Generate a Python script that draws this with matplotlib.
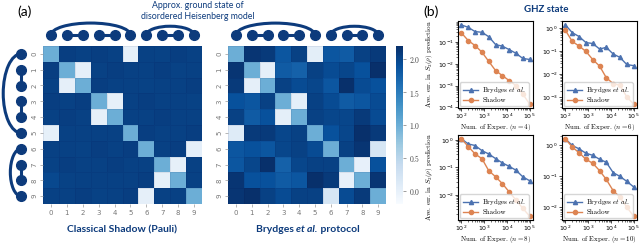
import matplotlib.pyplot as plt
import numpy as np
from matplotlib.patches import Arc
from matplotlib.ticker import LogLocator

plt.rcParams['mathtext.fontset'] = 'cm'
plt.rcParams['axes.formatter.use_mathtext'] = True

NAVY = '#0d3b7c'
BLUE = '#4C72B0'
ORANGE = '#DD8452'

# ---- data ----
sites = [str(i) for i in range(10)]
pairs = [(0, 5), (1, 2), (3, 4), (6, 9), (7, 8)]

shadow_S2 = [
    [1.00, 2.06, 2.05, 2.06, 2.05, 0.01, 2.05, 2.04, 2.06, 2.05],
    [2.06, 1.00, 0.02, 2.05, 2.06, 2.05, 2.05, 2.06, 2.04, 2.05],
    [2.05, 0.02, 1.00, 2.06, 2.05, 2.05, 2.04, 2.05, 2.05, 2.06],
    [2.06, 2.05, 2.06, 1.00, 0.01, 2.05, 2.06, 2.05, 2.05, 2.04],
    [2.05, 2.06, 2.05, 0.01, 1.00, 2.05, 2.05, 2.06, 2.05, 2.05],
    [0.01, 2.05, 2.05, 2.05, 2.05, 1.00, 2.06, 2.05, 2.05, 2.06],
    [2.05, 2.05, 2.04, 2.06, 2.05, 2.06, 1.00, 2.05, 2.06, 0.02],
    [2.04, 2.06, 2.05, 2.05, 2.06, 2.05, 2.05, 1.00, 0.01, 2.05],
    [1.98, 2.04, 2.05, 2.05, 2.05, 2.05, 2.06, 0.01, 1.00, 2.05],
    [2.05, 2.05, 2.06, 2.04, 2.05, 2.06, 0.02, 2.05, 2.05, 1.00],
]

brydges_S2 = [
    [1.00, 2.15, 2.10, 1.85, 2.05, 0.05, 1.85, 1.80, 2.05, 2.10],
    [2.15, 1.00, 0.02, 1.80, 1.75, 2.05, 1.95, 2.00, 1.90, 2.25],
    [2.10, 0.02, 1.00, 2.05, 1.95, 2.00, 1.85, 2.20, 1.95, 1.90],
    [1.90, 1.85, 2.05, 1.00, 0.03, 2.05, 1.95, 1.80, 1.85, 1.95],
    [2.05, 1.80, 1.90, 0.03, 1.00, 2.05, 2.00, 2.00, 2.10, 1.95],
    [0.10, 2.10, 2.10, 2.00, 2.05, 1.00, 1.90, 2.00, 2.25, 2.10],
    [1.85, 1.90, 1.85, 2.00, 2.05, 1.95, 1.00, 2.05, 2.15, 0.20],
    [1.85, 2.00, 2.20, 1.75, 2.00, 2.05, 2.05, 1.00, 0.00, 1.90],
    [2.15, 1.90, 1.90, 1.80, 1.85, 2.25, 2.10, 0.00, 1.00, 2.15],
    [2.15, 2.25, 2.05, 1.95, 2.05, 2.05, 0.20, 1.95, 2.10, 1.00],
]

n_exp = [100, 200, 400, 800, 1600, 3200, 6300, 12600, 25000, 50000, 100000]
system_sizes = [4, 6, 8, 10]
err_brydges = {
    4: [0.63, 0.49, 0.31, 0.29, 0.18, 0.078, 0.066, 0.046, 0.031, 0.018, 0.016],
    6: [1.4, 0.65, 0.44, 0.24, 0.22, 0.126, 0.15, 0.077, 0.055, 0.027, 0.024],
    8: [1.1, 0.72, 0.63, 0.41, 0.31, 0.21, 0.147, 0.11, 0.08, 0.046, 0.033],
    10: [1.6, 0.98, 0.76, 0.55, 0.47, 0.35, 0.28, 0.13, 0.098, 0.068, 0.045],
}
err_shadow = {
    4: [0.27, 0.12, 0.07, 0.035, 0.013, 0.0049, 0.0029, 0.0017, 0.001, 0.00041, 0.00014],
    6: [0.82, 0.27, 0.17, 0.10, 0.044, 0.023, 0.0072, 0.004, 0.0034, 0.00107, 0.00052],
    8: [1.1, 0.58, 0.31, 0.21, 0.076, 0.046, 0.026, 0.013, 0.0066, 0.0033, 0.0017],
    10: [1.6, 0.87, 0.57, 0.35, 0.26, 0.15, 0.078, 0.034, 0.021, 0.010, 0.0051],
}

W, H = 640, 246
fig = plt.figure(figsize=(W / 100, H / 100), dpi=100)


def px(x0, y0, x1, y1):
    # pixel box (from top-left) -> figure fraction rect
    return [x0 / W, 1 - y1 / H, (x1 - x0) / W, (y1 - y0) / H]


def heatmap(ax, mat):
    m = ax.pcolormesh(np.asarray(mat), cmap='Blues', vmin=-0.2, vmax=2.2,
                      edgecolors=(0, 0, 0.25, 0.07), linewidth=0.4)
    ax.set_xlim(0, 10)
    ax.set_ylim(10, 0)
    ax.set_xticks(np.arange(10) + 0.5, sites)
    ax.set_yticks(np.arange(10) + 0.5, sites, rotation=90, va='center')
    ax.tick_params(length=2, width=0.5, color='#999999', labelcolor='#777777',
                   labelsize=5, pad=2)
    for s in ax.spines.values():
        s.set_visible(False)
    return m


# ---- panel (a) ----
ax_l = fig.add_axes(px(43, 46, 202, 204))
ax_r = fig.add_axes(px(228, 46, 386, 204))
cax = fig.add_axes(px(396, 46, 403, 204))

mesh = heatmap(ax_l, shadow_S2)
heatmap(ax_r, brydges_S2)

cb = fig.colorbar(mesh, cax=cax)
cb.outline.set_visible(False)
cb.set_ticks([0, 0.5, 1.0, 1.5, 2.0])
cax.tick_params(length=2, width=0.5, color='#777777', labelcolor='#444444',
                labelsize=5.5, pad=2)
for t in cax.get_yticklabels():
    t.set_family('cmr10')

# overlay in pixel coordinates for the spin-chain sketches and labels
ov = fig.add_axes([0, 0, 1, 1])
ov.set_xlim(0, W)
ov.set_ylim(0, H)
ov.axis('off')


def draw_chain(centers, side):
    for a, b in pairs:
        (xa, ya), (xb, yb) = centers[a], centers[b]
        if b - a == 1:
            ov.plot([xa, xb], [ya, yb], color=NAVY, lw=2.2, solid_capstyle='round')
        else:
            d = np.hypot(xb - xa, yb - ya)
            if side == 'top':
                h = 4 + 0.1 * d
                ov.add_patch(Arc(((xa + xb) / 2, ya), d, 2 * h, theta1=0, theta2=180,
                                 color=NAVY, lw=2.2))
            else:
                h = 0.225 * d
                ov.add_patch(Arc((xa, (ya + yb) / 2), 2 * h, d, theta1=90, theta2=270,
                                 color=NAVY, lw=2.2))
    xs, ys = zip(*centers)
    ov.plot(xs, ys, 'o', ms=7, color=NAVY, ls='none')


for ax in (ax_l, ax_r):
    top = [ax.transData.transform((i + 0.5, 0)) for i in range(10)]
    draw_chain([(x, y + 11) for x, y in top], 'top')
left = [ax_l.transData.transform((0, i + 0.5)) for i in range(10)]
draw_chain([(x - 22, y) for x, y in left], 'left')

sans = ['Lato', 'DejaVu Sans']
fig.text(17 / W, 1 - 12 / H, '(a)', fontsize=10, family=sans, va='center')
fig.text(423 / W, 1 - 12 / H, '(b)', fontsize=10, family=sans, va='center')
fig.text(198 / W, 1 - 11 / H, 'Approx. ground state of\ndisordered Heisenberg model',
         fontsize=6.3, family=sans, color=NAVY, ha='center', va='center',
         linespacing=1.3)
fig.text(546 / W, 1 - 10 / H, 'GHZ state', fontsize=7, family=sans, weight='bold',
         color=NAVY, ha='center', va='center')
fig.text(122 / W, 1 - 230 / H, 'Classical Shadow (Pauli)', fontsize=7.5, family=sans,
         weight='bold', color=NAVY, ha='center', va='center')

t1 = ov.text(256, H - 230, 'Brydges ', fontsize=7.5, family=sans, weight='bold',
             color=NAVY, va='center')
t2 = ov.annotate('et al.', xy=(1, 0), xycoords=t1, va='bottom', fontsize=7.5,
                 family=sans, weight='bold', style='italic', color=NAVY)
ov.annotate(' protocol', xy=(1, 0), xycoords=t2, va='bottom', fontsize=7.5,
            family=sans, weight='bold', color=NAVY)

# ---- panel (b) ----
b_pos = {4: px(458, 21, 533, 108), 6: px(562, 21, 637, 108),
         8: px(458, 135, 533, 220), 10: px(562, 135, 637, 220)}
for n in system_sizes:
    ax = fig.add_axes(b_pos[n])
    ax.loglog(n_exp, err_brydges[n], '-^', color=BLUE, ms=3, lw=1,
              label=r'Brydges $\it{et\ al.}$')
    ax.loglog(n_exp, err_shadow[n], '-o', color=ORANGE, ms=3, lw=1, label='Shadow')
    ax.set_xticks([1e2, 1e3, 1e4, 1e5])
    ax.xaxis.set_minor_locator(LogLocator(base=10, subs=np.arange(2, 10), numticks=20))
    ax.yaxis.set_major_locator(LogLocator(base=10, numticks=20))
    ax.yaxis.set_minor_locator(LogLocator(base=10, subs=np.arange(2, 10), numticks=20))
    ax.set_xlabel(rf'Num. of Exper. ($n={n}$)', fontsize=5, family='cmr10')
    ax.xaxis.set_label_coords(0.5, -0.16)
    if n in (4, 8):
        ax.set_ylabel(r'Ave. err. in $S_2(\rho)$ prediction', fontsize=5,
                      family='cmr10', labelpad=2)
    ax.tick_params(labelsize=4.5, length=2, width=0.5, pad=1)
    ax.tick_params(which='minor', length=1.2, width=0.4)
    for s in ax.spines.values():
        s.set_linewidth(0.8)
    leg = ax.legend(loc='lower left', prop={'family': 'cmr10', 'size': 5},
                    handlelength=2.2, borderpad=0.4, labelspacing=0.3,
                    handletextpad=0.6, borderaxespad=0.3)

fig.savefig('out.png', dpi=100)
